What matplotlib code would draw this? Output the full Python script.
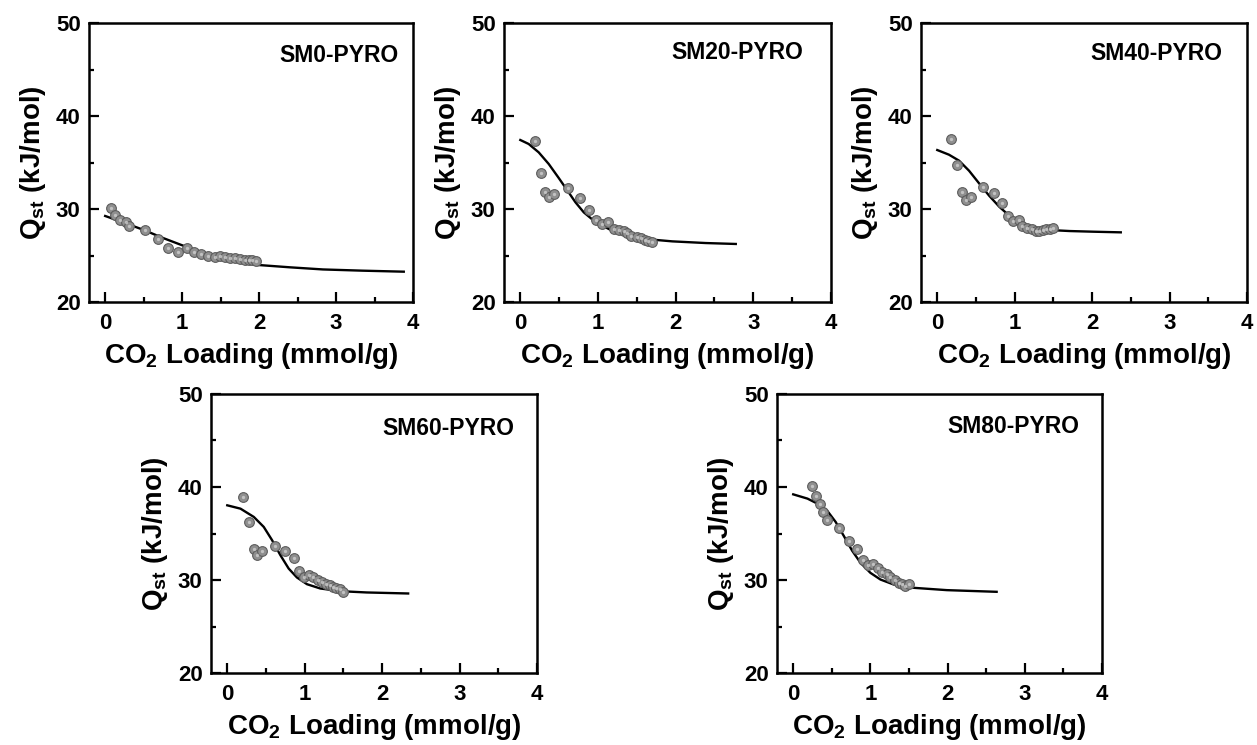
import matplotlib
matplotlib.use("Agg")
import matplotlib.pyplot as plt
from matplotlib.ticker import MultipleLocator

plt.rcParams['font.family'] = ['Liberation Sans', 'DejaVu Sans']
plt.rcParams['font.weight'] = 'bold'
plt.rcParams['mathtext.fontset'] = 'custom'
plt.rcParams['mathtext.rm'] = 'Liberation Sans:bold'
plt.rcParams['mathtext.bf'] = 'Liberation Sans:bold'
plt.rcParams['mathtext.it'] = 'Liberation Sans:bold'

# ---------------- data ----------------
names = ["SM0-PYRO", "SM20-PYRO", "SM40-PYRO", "SM60-PYRO", "SM80-PYRO"]

sm0_x = [0.07, 0.13, 0.19, 0.27, 0.31, 0.52, 0.69, 0.82, 0.95, 1.06, 1.16, 1.25,
         1.34, 1.43, 1.49, 1.56, 1.62, 1.69, 1.75, 1.82, 1.87, 1.91, 1.96]
sm0_y = [30.1, 29.35, 28.8, 28.6, 28.2, 27.7, 26.8, 25.8, 25.4, 25.8, 25.4, 25.2,
         25.0, 24.8, 24.9, 24.8, 24.75, 24.7, 24.6, 24.55, 24.55, 24.55, 24.45]
sm0_fit_x = [0, 0.245, 0.503, 0.74, 1.0, 1.235, 1.49, 1.75, 1.99, 2.40, 2.83, 3.34, 3.88]
sm0_fit_y = [29.25, 28.53, 27.74, 26.92, 26.1, 25.41, 24.8, 24.33, 23.98, 23.73, 23.5, 23.37, 23.26]

sm20_x = [0.19, 0.26, 0.32, 0.37, 0.43, 0.61, 0.77, 0.89, 0.97, 1.05, 1.13, 1.20,
          1.27, 1.33, 1.38, 1.43, 1.50, 1.55, 1.60, 1.65, 1.69]
sm20_y = [37.35, 33.84, 31.8, 31.25, 31.6, 32.26, 31.15, 29.93, 28.8, 28.4, 28.57, 27.9,
          27.74, 27.6, 27.4, 27.13, 27.0, 26.9, 26.7, 26.6, 26.5]
sm20_fit_x = [0, 0.108, 0.237, 0.366, 0.495, 0.602, 0.71, 0.817, 0.925, 1.054, 1.183,
              1.355, 1.613, 1.957, 2.387, 2.774]
sm20_fit_y = [37.42, 36.99, 36.09, 34.84, 33.33, 32.04, 30.72, 29.64, 28.89, 28.21, 27.67,
              27.24, 26.77, 26.52, 26.34, 26.24]

sm40_x = [0.18, 0.25, 0.32, 0.37, 0.43, 0.59, 0.73, 0.83, 0.91, 0.98, 1.05, 1.10,
          1.16, 1.22, 1.27, 1.32, 1.36, 1.40, 1.45, 1.49]
sm40_y = [37.53, 34.73, 31.86, 30.97, 31.25, 32.4, 31.72, 30.6, 29.28, 28.67, 28.85, 28.2,
          28.0, 27.9, 27.67, 27.6, 27.74, 27.85, 27.9, 28.0]
sm40_fit_x = [0, 0.151, 0.281, 0.41, 0.54, 0.67, 0.80, 0.93, 1.06, 1.23, 1.45, 1.71, 2.01, 2.37]
sm40_fit_y = [36.34, 35.84, 35.2, 34.12, 32.76, 31.43, 30.25, 29.28, 28.57, 28.03, 27.74,
              27.63, 27.56, 27.49]

sm60_x = [0.20, 0.28, 0.34, 0.39, 0.45, 0.62, 0.75, 0.86, 0.93, 0.99, 1.06, 1.11,
          1.17, 1.22, 1.28, 1.33, 1.37, 1.41, 1.46, 1.50]
sm60_y = [38.93, 36.24, 33.31, 32.67, 33.13, 33.67, 33.1, 32.38, 30.95, 30.27, 30.52, 30.34,
          29.98, 29.8, 29.62, 29.45, 29.27, 29.09, 28.98, 28.73]
sm60_fit_x = [0, 0.171, 0.343, 0.471, 0.579, 0.686, 0.793, 0.90, 1.029, 1.20, 1.457, 1.80, 2.336]
sm60_fit_y = [38.03, 37.67, 36.78, 35.71, 34.28, 32.67, 31.23, 30.27, 29.55, 29.09, 28.8,
              28.66, 28.55]

sm80_x = [0.24, 0.29, 0.35, 0.39, 0.44, 0.59, 0.72, 0.82, 0.91, 0.97, 1.04, 1.10,
          1.15, 1.21, 1.26, 1.32, 1.37, 1.41, 1.45, 1.50]
sm80_y = [40.07, 39.0, 38.14, 37.32, 36.42, 35.6, 34.2, 33.38, 32.2, 31.6, 31.67, 31.3,
          30.9, 30.64, 30.28, 29.98, 29.73, 29.52, 29.38, 29.52]
sm80_fit_x = [0, 0.185, 0.314, 0.443, 0.55, 0.658, 0.765, 0.873, 1.0, 1.13, 1.30, 1.56, 1.99, 2.635]
sm80_fit_y = [39.21, 38.75, 38.21, 37.42, 36.24, 34.7, 33.13, 31.84, 30.77, 30.05, 29.52,
              29.16, 28.91, 28.73]

points_x = [sm0_x, sm20_x, sm40_x, sm60_x, sm80_x]
points_y = [sm0_y, sm20_y, sm40_y, sm60_y, sm80_y]
fits_x = [sm0_fit_x, sm20_fit_x, sm40_fit_x, sm60_fit_x, sm80_fit_x]
fits_y = [sm0_fit_y, sm20_fit_y, sm40_fit_y, sm60_fit_y, sm80_fit_y]

x_ticks = [0, 1, 2, 3, 4]
y_ticks = [20, 30, 40, 50]

# ---------------- layout ----------------
W, H = 1257, 745
boxes = [(89, 413, 23, 302), (504, 831, 23, 302), (921, 1247, 23, 302),
         (211, 537, 394, 673), (777, 1102, 394, 673)]
label_pos = [(0.955, 0.885), (0.915, 0.893), (0.925, 0.889), (0.93, 0.878), (0.93, 0.882)]

fig = plt.figure(figsize=(W / 100, H / 100), dpi=100)

for i in range(5):
    l, r, t, b = boxes[i]
    ax = fig.add_axes([l / W, (H - b) / H, (r - l) / W, (b - t) / H])
    ax.plot(fits_x[i], fits_y[i], color='black', lw=1.7, zorder=2,
            solid_joinstyle='round')
    ax.plot(points_x[i], points_y[i], 'o', ms=7, mfc='#8f8f8f', mec='#5c5c5c',
            mew=0.8, zorder=3)
    ax.plot(points_x[i], points_y[i], 'o', ms=2.4, mfc='#d8d8d8', mec='none',
            zorder=4, alpha=0.7)
    ax.set_xlim(-0.21, 4.0)
    ax.set_ylim(20, 50)
    ax.set_xticks(x_ticks)
    ax.set_yticks(y_ticks)
    ax.xaxis.set_minor_locator(MultipleLocator(0.5))
    ax.yaxis.set_minor_locator(MultipleLocator(5))
    ax.tick_params(which='both', direction='in', top=False, right=False,
                   width=1.6, labelsize=16)
    ax.tick_params(which='major', length=7)
    ax.tick_params(axis='x', which='major', pad=8)
    ax.tick_params(axis='y', which='major', pad=6)
    ax.tick_params(which='minor', length=3.5)
    for lab in ax.get_xticklabels() + ax.get_yticklabels():
        lab.set_fontweight('bold')
    for sp in ax.spines.values():
        sp.set_linewidth(1.8)
    ax.set_xlabel(r'CO$_{2}$ Loading (mmol/g)', fontsize=20, fontweight='bold', labelpad=5)
    ax.set_ylabel(r'Q$_{st}$ (kJ/mol)', fontsize=20, fontweight='bold', labelpad=6)
    ax.text(label_pos[i][0], label_pos[i][1], names[i], transform=ax.transAxes,
            ha='right', va='center', fontsize=16.5, fontweight='bold')

fig.savefig('out.png', dpi=100)
